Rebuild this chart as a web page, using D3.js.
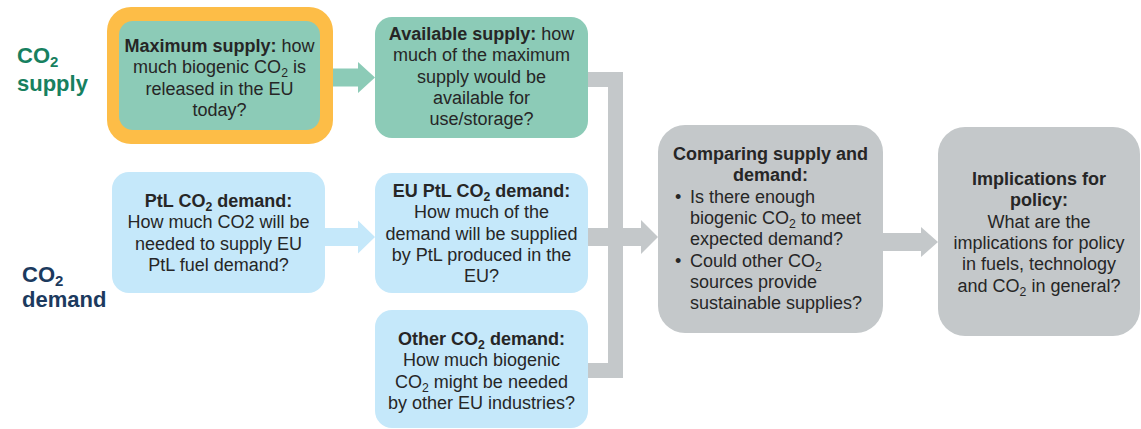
<!DOCTYPE html>
<html>
<head>
<meta charset="utf-8">
<script src="https://cdn.jsdelivr.net/npm/d3@7"></script>
<style>
body { margin: 0; background: #fff; }
svg { display: block; font-family: "Liberation Sans", Arial, sans-serif; }
</style>
</head>
<body>
<svg id="chart" width="1141" height="429"></svg>
<script>
// Row labels on the left ("_2" marks a subscript 2)
var rowLabels = [["CO_2", "supply"], ["CO_2", "demand"]];

// Box ids, and the text in each box ("**" toggles bold)
var nodeIds = ["max", "avail", "ptl", "euptl", "other", "compare", "policy"];
var nodeLines = [
    ["**Maximum supply:** how", "much biogenic CO_2 is", "released in the EU", "today?"],
    ["**Available supply:** how", "much of the maximum", "supply would be", "available for", "use/storage?"],
    ["**PtL CO_2 demand:**", "How much CO2 will be", "needed to supply EU", "PtL fuel demand?"],
    ["**EU PtL CO_2 demand:**", "How much of the", "demand will be supplied", "by PtL produced in the", "EU?"],
    ["**Other CO_2 demand:**", "How much biogenic", "CO_2 might be needed", "by other EU industries?"],
    ["**Comparing supply and**", "**demand:**", "• Is there enough", "biogenic CO_2 to meet", "expected demand?", "• Could other CO_2", "sources provide", "sustainable supplies?"],
    ["**Implications for**", "**policy:**", "What are the", "implications for policy", "in fuels, technology", "and CO_2 in general?"]
];
var nodeKind = ["supply", "supply", "demand", "demand", "demand", "result", "result"];

// Links between boxes
var links = [["max", "avail"], ["ptl", "euptl"], ["euptl", "compare"], ["compare", "policy"]];

// ---- layout (positions / styles kept apart from the content) ----
var layout = {
    max:     { x0: 119, y0: 21,  x1: 320,  y1: 130, r: 14, base: 52 },
    avail:   { x0: 375, y0: 17,  x1: 588,  y1: 138, r: 17, base: 40 },
    ptl:     { x0: 112, y0: 172, x1: 325,  y1: 293, r: 17, base: 207 },
    euptl:   { x0: 375, y0: 173, x1: 588,  y1: 293, r: 17, base: 197 },
    other:   { x0: 375, y0: 310, x1: 588,  y1: 428, r: 17, base: 345 },
    compare: { x0: 658, y0: 125, x1: 883,  y1: 333, r: 27, base: 160 },
    policy:  { x0: 938, y0: 127, x1: 1140, y1: 336, r: 27, base: 185 }
};
var fill = d3.scaleOrdinal()
    .domain(["supply", "demand", "result"])
    .range(["#8ccbb7", "#c5e8fa", "#c4c8ca"]);
var lineHeight = 21.3;
var fontSize = 18;
var textColor = "#262626";

var svg = d3.select("#chart");

// write one line with bold toggles and CO2 subscripts into a <text>
function writeLine(text, str) {
    var bold = false;
    var shift = 0;
    str.split("**").forEach(function (part, i) {
        if (i > 0) bold = !bold;
        if (part === "") return;
        var bits = part.split("_2");
        bits.forEach(function (b, j) {
            if (b !== "") {
                var ts = text.append("tspan").attr("font-weight", bold ? "bold" : "normal").text(b);
                if (shift) { ts.attr("dy", -shift); shift = 0; }
            }
            if (j < bits.length - 1) {
                text.append("tspan").attr("font-weight", bold ? "bold" : "normal")
                    .attr("font-size", "0.68em").attr("dy", 4).text("2");
                shift = 4;
            }
        });
    });
}

// gray connector bars behind the boxes
var bar = 15;
var gray = fill("result");
var conn = svg.append("g");
conn.append("rect").attr("x", 588).attr("y", 72).attr("width", 35).attr("height", bar).attr("fill", gray);
conn.append("rect").attr("x", 608).attr("y", 72).attr("width", bar).attr("height", 306).attr("fill", gray);
conn.append("rect").attr("x", 588).attr("y", 363).attr("width", 35).attr("height", bar).attr("fill", gray);

// arrows
function arrowPath(x0, tip, cy, sh, hh, hl) {
    var p = d3.path();
    p.moveTo(x0, cy - sh);
    p.lineTo(tip - hl, cy - sh);
    p.lineTo(tip - hl, cy - hh);
    p.lineTo(tip, cy);
    p.lineTo(tip - hl, cy + hh);
    p.lineTo(tip - hl, cy + sh);
    p.lineTo(x0, cy + sh);
    p.closePath();
    return p.toString();
}
var arrowY = { max: 77.5, ptl: 237, euptl: 237, compare: 242 };
var arrowHead = { max: 15.5, ptl: 16.5, euptl: 17, compare: 15 };
links.forEach(function (l) {
    var a = layout[l[0]], b = layout[l[1]];
    var start = l[0] === "max" ? 332 : a.x1;
    var tk = nodeKind[nodeIds.indexOf(l[1])];
    var col = tk === "result" ? fill("result") : fill(nodeKind[nodeIds.indexOf(l[0])]);
    svg.append("path")
        .attr("d", arrowPath(start, b.x0, arrowY[l[0]], 9, arrowHead[l[0]], 17))
        .attr("fill", col);
});

// orange highlight around the first box
var m = layout.max;
svg.append("rect")
    .attr("x", m.x0 - 12).attr("y", m.y0 - 14)
    .attr("width", m.x1 - m.x0 + 25).attr("height", m.y1 - m.y0 + 28)
    .attr("rx", 24).attr("fill", "#fdbd47");

// boxes
var nodes = svg.selectAll("g.node")
    .data(nodeIds)
    .enter().append("g").attr("class", "node");

nodes.append("rect")
    .attr("x", function (d) { return layout[d].x0; })
    .attr("y", function (d) { return layout[d].y0; })
    .attr("width", function (d) { return layout[d].x1 - layout[d].x0; })
    .attr("height", function (d) { return layout[d].y1 - layout[d].y0; })
    .attr("rx", function (d) { return layout[d].r; })
    .attr("fill", function (d, i) { return fill(nodeKind[i]); });

nodes.each(function (d, i) {
    var g = d3.select(this), L = layout[d];
    var cx = (L.x0 + L.x1) / 2;
    nodeLines[i].forEach(function (line, k) {
        var y = L.base + k * lineHeight;
        var isBullet = line.indexOf("• ") === 0;
        var cont = d === "compare" && k >= 2 && !isBullet;
        var t = g.append("text")
            .attr("y", y)
            .attr("font-size", fontSize)
            .attr("fill", textColor);
        if (isBullet) {
            g.append("text").attr("x", 675).attr("y", y).attr("font-size", fontSize)
                .attr("fill", textColor).text("•");
            t.attr("x", 690);
            writeLine(t, line.slice(2));
        } else if (cont) {
            t.attr("x", 690);
            writeLine(t, line);
        } else {
            t.attr("x", cx).attr("text-anchor", "middle");
            writeLine(t, line);
        }
    });
});

// row labels
var labelColor = ["#17805f", "#1c3a5e"];
var labelY = [[63, 91], [282, 307]];
var labelX = [17, 22];
rowLabels.forEach(function (lab, i) {
    lab.forEach(function (s, k) {
        var t = svg.append("text")
            .attr("x", labelX[i]).attr("y", labelY[i][k])
            .attr("font-size", 22).attr("font-weight", "bold")
            .attr("fill", labelColor[i]);
        writeLine(t, "**" + s + "**");
    });
});
</script>
</body>
</html>
